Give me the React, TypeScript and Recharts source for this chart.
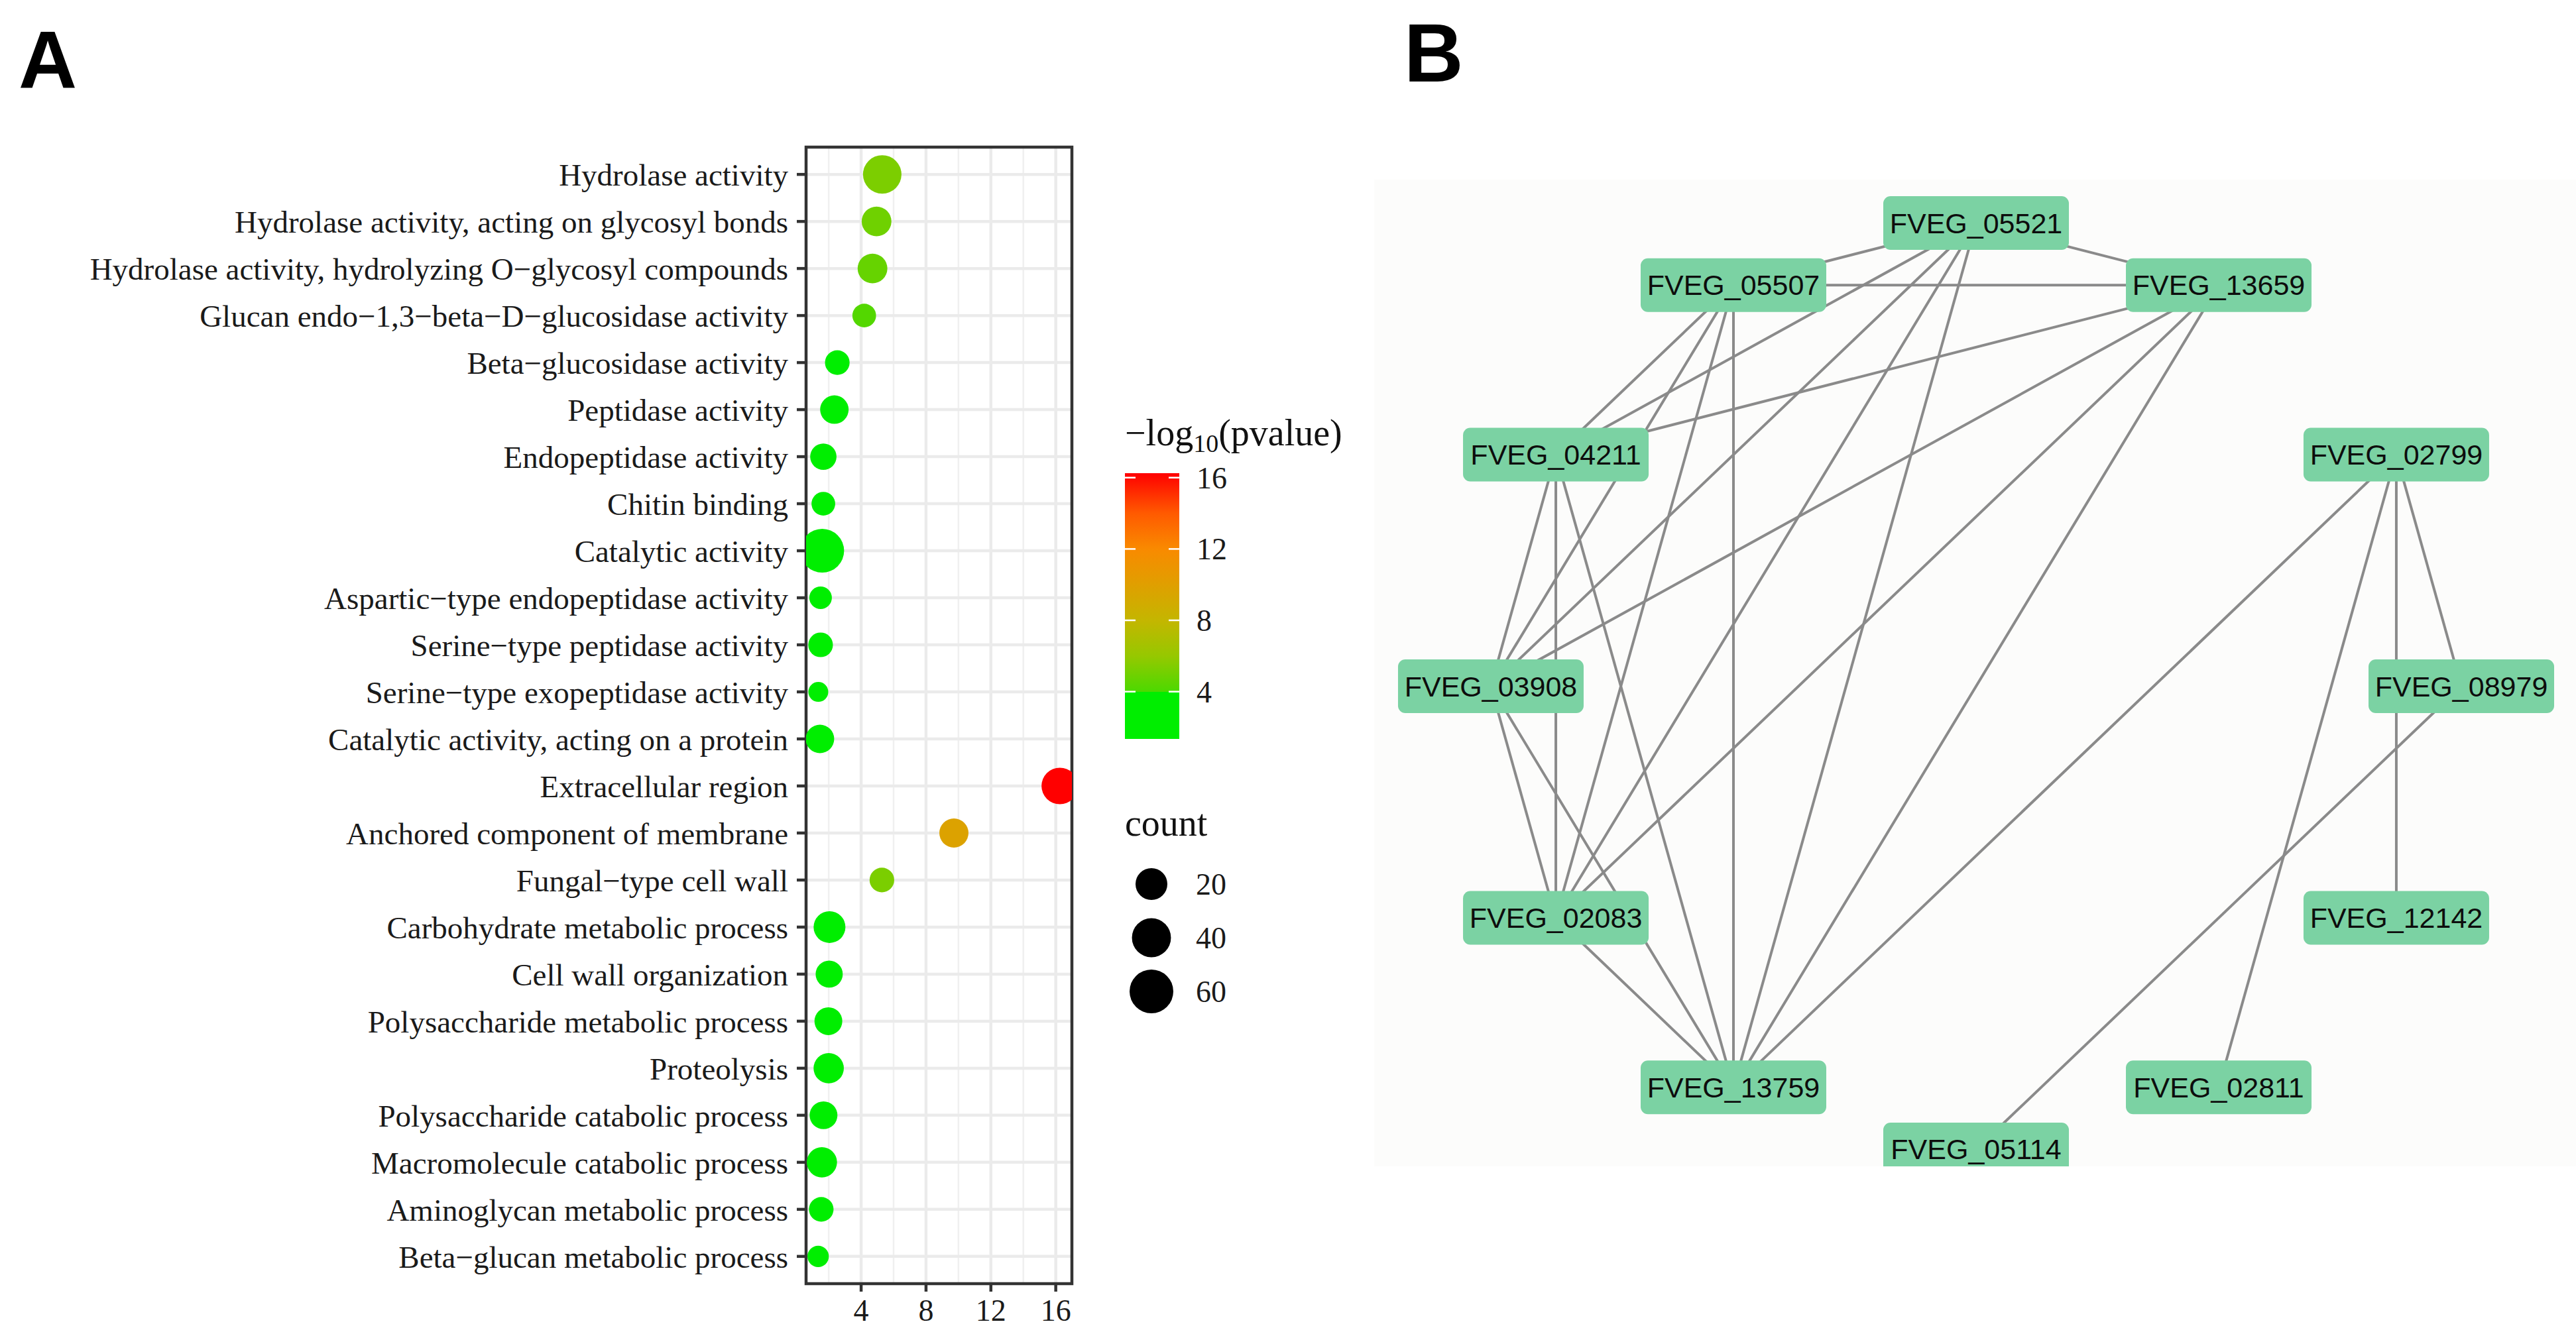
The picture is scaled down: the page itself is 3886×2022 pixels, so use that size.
import React from 'react'
import { CartesianGrid, Cell, ReferenceArea, Scatter, ScatterChart, XAxis, YAxis, ZAxis } from 'recharts'

// ---- panel A: GO enrichment bubble chart ----
const terms = [
  'Hydrolase activity',
  'Hydrolase activity, acting on glycosyl bonds',
  'Hydrolase activity, hydrolyzing O\u2212glycosyl compounds',
  'Glucan endo\u22121,3\u2212beta\u2212D\u2212glucosidase activity',
  'Beta\u2212glucosidase activity',
  'Peptidase activity',
  'Endopeptidase activity',
  'Chitin binding',
  'Catalytic activity',
  'Aspartic\u2212type endopeptidase activity',
  'Serine\u2212type peptidase activity',
  'Serine\u2212type exopeptidase activity',
  'Catalytic activity, acting on a protein',
  'Extracellular region',
  'Anchored component of membrane',
  'Fungal\u2212type cell wall',
  'Carbohydrate metabolic process',
  'Cell wall organization',
  'Polysaccharide metabolic process',
  'Proteolysis',
  'Polysaccharide catabolic process',
  'Macromolecule catabolic process',
  'Aminoglycan metabolic process',
  'Beta\u2212glucan metabolic process',
]

// -log10(pvalue)
const negLog10P = [
  5.3, 4.95, 4.7, 4.19, 2.53, 2.35, 1.67, 1.67, 1.6, 1.5, 1.5, 1.36,
  1.46, 16.25, 9.72, 5.28, 2.05, 2.03, 1.98, 2.0, 1.68, 1.58, 1.54, 1.35,
]

// gene counts
const geneCounts = [
  38, 16, 16, 8, 9, 14, 11, 8, 60, 7, 9, 5,
  14, 32, 15, 9, 20, 12, 13, 17, 13, 17, 9, 6,
]

const xTicks = [4, 8, 12, 16]
const xMinorTicks = [2, 6, 10, 14]
const colorTicks = [4, 8, 12, 16]
const countBreaks = [20, 40, 60]

// ---- panel B: interaction network ----
// nodes listed clockwise round the circle, starting at the top
const nodeIds = [
  'FVEG_05521', 'FVEG_13659', 'FVEG_02799', 'FVEG_08979', 'FVEG_12142', 'FVEG_02811',
  'FVEG_05114', 'FVEG_13759', 'FVEG_02083', 'FVEG_03908', 'FVEG_04211', 'FVEG_05507',
]

const edges = [
  ['FVEG_05521', 'FVEG_05507'], ['FVEG_05521', 'FVEG_13659'], ['FVEG_05507', 'FVEG_13659'],
  ['FVEG_05521', 'FVEG_04211'], ['FVEG_05521', 'FVEG_03908'], ['FVEG_05521', 'FVEG_02083'], ['FVEG_05521', 'FVEG_13759'],
  ['FVEG_05507', 'FVEG_04211'], ['FVEG_05507', 'FVEG_03908'], ['FVEG_05507', 'FVEG_02083'], ['FVEG_05507', 'FVEG_13759'],
  ['FVEG_13659', 'FVEG_04211'], ['FVEG_13659', 'FVEG_03908'], ['FVEG_13659', 'FVEG_02083'], ['FVEG_13659', 'FVEG_13759'],
  ['FVEG_04211', 'FVEG_03908'], ['FVEG_04211', 'FVEG_02083'], ['FVEG_04211', 'FVEG_13759'],
  ['FVEG_03908', 'FVEG_02083'], ['FVEG_03908', 'FVEG_13759'],
  ['FVEG_02083', 'FVEG_13759'],
  ['FVEG_02799', 'FVEG_08979'], ['FVEG_02799', 'FVEG_12142'], ['FVEG_02799', 'FVEG_02811'], ['FVEG_02799', 'FVEG_13759'],
  ['FVEG_08979', 'FVEG_05114'],
]

// colour scale: flat green below 4, then green -> orange -> red
const LOW_GREEN = '#00ee00'
const colorStops = [
  { v: 4, c: [76, 217, 0] },
  { v: 6, c: [150, 200, 0] },
  { v: 8, c: [196, 182, 0] },
  { v: 10, c: [224, 159, 0] },
  { v: 12, c: [249, 138, 0] },
  { v: 14, c: [255, 90, 0] },
  { v: 16.25, c: [255, 0, 0] },
]
const hex = (c: number[]) => '#' + c.map((x) => Math.round(x).toString(16).padStart(2, '0')).join('')

function colorFor(v: number) {
  if (v < colorStops[0].v) return LOW_GREEN
  for (let i = 1; i < colorStops.length; i++) {
    const a = colorStops[i - 1]
    const b = colorStops[i]
    if (v <= b.v) {
      const t = (v - a.v) / (b.v - a.v)
      return hex(a.c.map((x, k) => x + (b.c[k] - x) * t))
    }
  }
  return hex(colorStops[colorStops.length - 1].c)
}

// bubble size scale (sqrt on count -> symbol area), shared by chart and legend
const COUNT_DOMAIN = [4, 64]
const DIAM_RANGE = [27.47, 67.2]
const areaOf = (d: number) => (Math.PI * d * d) / 4
function diameterFor(count: number) {
  const t = (Math.sqrt(count) - Math.sqrt(COUNT_DOMAIN[0])) / (Math.sqrt(COUNT_DOMAIN[1]) - Math.sqrt(COUNT_DOMAIN[0]))
  const a = areaOf(DIAM_RANGE[0]) + t * (areaOf(DIAM_RANGE[1]) - areaOf(DIAM_RANGE[0]))
  return 2 * Math.sqrt(a / Math.PI)
}

const rows = terms.map((term, i) => ({ term, y: i + 1, p: negLog10P[i], count: geneCounts[i] }))
const rowTicks = rows.map((r) => r.y)
const pMin = Math.min(...negLog10P)
const pMax = Math.max(...negLog10P)
const pPad = (pMax - pMin) * 0.05
const xDomain = [pMin - pPad, pMax + pPad]
const yDomain = [1 - 0.58, terms.length + 0.58]

const nodes = nodeIds.map((id, k) => {
  const a = ((90 - 30 * k) * Math.PI) / 180
  return { id, x: Math.cos(a), y: Math.sin(a) }
})
const nodeById = Object.fromEntries(nodes.map((n) => [n.id, n]))

const SERIF = 'Liberation Serif, Times New Roman, serif'
const SANS = 'Liberation Sans, Arial, sans-serif'

function NodeBox(props: any) {
  const { cx, cy, payload } = props
  return (
    <g>
      <rect x={cx - 140} y={cy - 40.5} width={280} height={81} rx={11} fill="#7bd2a3" />
      <text x={cx} y={cy} textAnchor="middle" dominantBaseline="central" fontSize={43} fontFamily={SANS} fill="#0d0d0d">
        {payload.id}
      </text>
    </g>
  )
}

const Nothing = () => <g />

function Legends() {
  const barX = 1697
  const barW = 82
  const barTop = 714
  const barH = 401
  const yOf = (v: number) => barTop + barH - ((v - pMin) / (pMax - pMin)) * barH
  const off = (v: number) => (v - pMin) / (pMax - pMin)
  const circleY = [1334, 1415, 1496]
  return (
    <svg width={3886} height={2022} style={{ position: 'absolute', left: 0, top: 0, pointerEvents: 'none' }}>
      <defs>
        <linearGradient id="pgrad" x1="0" y1="1" x2="0" y2="0">
          <stop offset={0} stopColor={LOW_GREEN} />
          <stop offset={off(colorStops[0].v)} stopColor={LOW_GREEN} />
          {colorStops.map((s) => (
            <stop key={s.v} offset={Math.min(1, off(s.v))} stopColor={hex(s.c)} />
          ))}
        </linearGradient>
      </defs>
      <text x={28} y={133} fontSize={122} fontWeight="bold" fontFamily={SANS} fill="#000">A</text>
      <text x={2118} y={123} fontSize={124} fontWeight="bold" fontFamily={SANS} fill="#000">B</text>

      <text x={barX} y={672} fontSize={56} fontFamily={SERIF} fill="#111">
        {'\u2212log'}
        <tspan fontSize={38} dy={10}>10</tspan>
        <tspan dy={-10}>(pvalue)</tspan>
      </text>
      <rect x={barX} y={barTop} width={barW} height={barH} fill="url(#pgrad)" />
      {colorTicks.map((v) => (
        <g key={v}>
          <line x1={barX} x2={barX + 16} y1={yOf(v)} y2={yOf(v)} stroke="#fff" strokeWidth={2.5} />
          <line x1={barX + barW - 16} x2={barX + barW} y1={yOf(v)} y2={yOf(v)} stroke="#fff" strokeWidth={2.5} />
          <text x={1805} y={yOf(v)} dy="0.35em" fontSize={46} fontFamily={SERIF} fill="#1a1a1a">{v}</text>
        </g>
      ))}

      <text x={barX} y={1261} fontSize={56} fontFamily={SERIF} fill="#111">count</text>
      {countBreaks.map((c, i) => (
        <g key={c}>
          <circle cx={1737} cy={circleY[i]} r={diameterFor(c) / 2} fill="#000" />
          <text x={1804} y={circleY[i]} dy="0.35em" fontSize={46} fontFamily={SERIF} fill="#1a1a1a">{c}</text>
        </g>
      ))}
    </svg>
  )
}

export default function App() {
  const axisText = { fontSize: 47, fill: '#1a1a1a', fontFamily: SERIF }
  return (
    <div style={{ position: 'absolute', left: 0, top: 0, width: 3886, height: 2022, background: '#fff', overflow: 'hidden' }}>
      <div style={{ position: 'absolute', left: 0, top: 0 }}>
        <ScatterChart width={1660} height={2022} margin={{ top: 222, right: 43, bottom: 15, left: 0 }}>
          <CartesianGrid horizontal={false} verticalValues={xMinorTicks} stroke="#f0f0f0" strokeWidth={2.5} />
          <CartesianGrid verticalValues={xTicks} horizontalValues={rowTicks} stroke="#ebebeb" strokeWidth={4.5} />
          <XAxis
            type="number"
            dataKey="p"
            domain={xDomain}
            ticks={xTicks}
            interval={0}
            allowDataOverflow
            height={70}
            axisLine={false}
            tickSize={12}
            tickMargin={11}
            tickLine={{ stroke: '#333', strokeWidth: 4.5 }}
            tick={{ ...axisText, fontSize: 46 }}
          />
          <YAxis
            type="number"
            dataKey="y"
            domain={yDomain}
            reversed
            ticks={rowTicks}
            interval={0}
            width={1216}
            axisLine={false}
            tickSize={14}
            tickMargin={13}
            tickLine={{ stroke: '#333', strokeWidth: 4.5 }}
            tick={axisText}
            tickFormatter={(v: number) => terms[v - 1]}
          />
          <ZAxis
            type="number"
            dataKey="count"
            scale="sqrt"
            domain={COUNT_DOMAIN}
            range={[areaOf(DIAM_RANGE[0]), areaOf(DIAM_RANGE[1])]}
          />
          <Scatter data={rows} isAnimationActive={false}>
            {rows.map((r) => (
              <Cell key={r.term} fill={colorFor(r.p)} />
            ))}
          </Scatter>
          <ReferenceArea
            x1={xDomain[0]}
            x2={xDomain[1]}
            y1={yDomain[0]}
            y2={yDomain[1]}
            fill="none"
            fillOpacity={0}
            stroke="#333"
            strokeWidth={4.5}
            ifOverflow="visible"
          />
        </ScatterChart>
      </div>

      <div style={{ position: 'absolute', left: 2073, top: 271, width: 1813, height: 1489, background: '#fcfcfb' }}>
        <ScatterChart width={1813} height={1489} margin={{ top: 0, right: 0, bottom: 0, left: 0 }}>
          <XAxis type="number" dataKey="x" domain={[-1.2404, 1.2363]} hide allowDataOverflow />
          <YAxis type="number" dataKey="y" domain={[-1.0365, 1.0938]} hide allowDataOverflow />
          {edges.map(([a, b]) => (
            <Scatter
              key={a + b}
              data={[nodeById[a], nodeById[b]]}
              fill="#8a8a8a"
              line={{ stroke: '#8a8a8a', strokeWidth: 4 }}
              shape={Nothing}
              isAnimationActive={false}
            />
          ))}
          <Scatter data={nodes} shape={NodeBox} isAnimationActive={false} />
        </ScatterChart>
      </div>

      <Legends />
    </div>
  )
}
